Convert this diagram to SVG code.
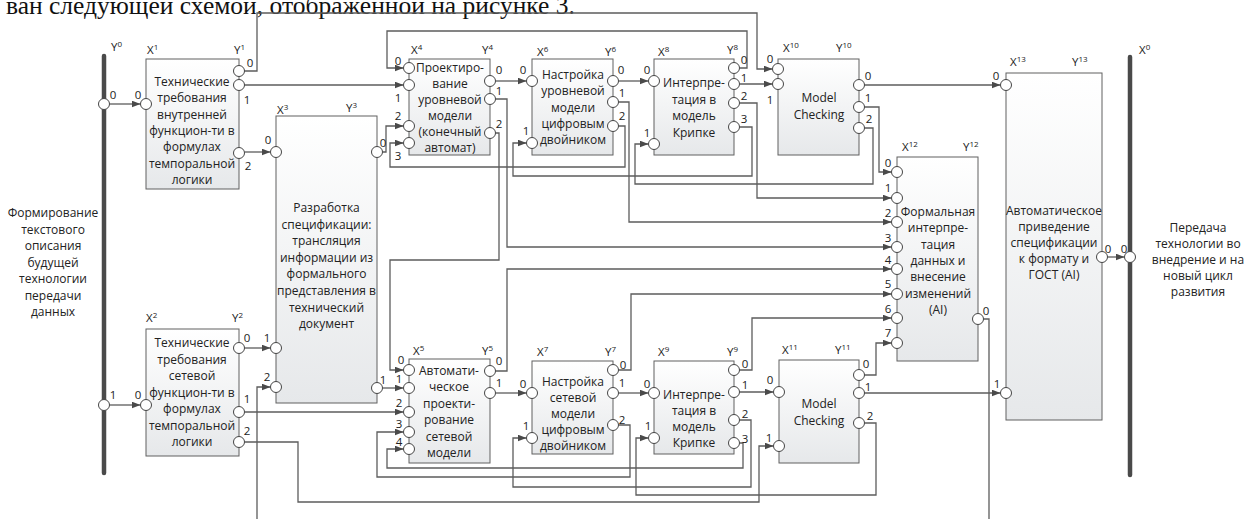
<svg xmlns="http://www.w3.org/2000/svg" width="1245" height="519" viewBox="0 0 1245 519">
<style>
.box{fill:url(#bg);stroke:#606060;stroke-width:1}
.p{fill:#fff;stroke:#454545;stroke-width:1}
.w{fill:none;stroke:#5c5c5c;stroke-width:1.3}
.a{marker-end:url(#ah)}
.bar{stroke:#4a4a4a;stroke-width:4.5;stroke-linecap:round}
text{font-family:"Open Sans","Noto Sans",sans-serif;fill:#222}
.t{font-size:12px;text-anchor:middle}
.n{font-size:11.5px;text-anchor:middle;dominant-baseline:central}
.l{font-size:11.5px}
.s{font-size:8px}
.top{font-family:"Liberation Serif",serif;font-size:25.5px;fill:#111}
</style>
<defs>
<linearGradient id="bg" x1="0" y1="0" x2="0" y2="1">
<stop offset="0" stop-color="#ffffff"/>
<stop offset="1" stop-color="#e6e8ea"/>
</linearGradient>
<marker id="ah" markerUnits="userSpaceOnUse" markerWidth="10" markerHeight="8" refX="9" refY="3.5" orient="auto">
<path d="M0,0 L9,3.5 L0,7 z" fill="#4a4a4a"/>
</marker>
</defs>
<rect width="1245" height="519" fill="#fff"/>
<text class="top" x="6" y="14">ван следующей схемой, отображенной на рисунке 3.</text>

<g id="connectors">
<path class="w a" d="M109.5,104 H140.5"/>
<path class="w a" d="M109.5,405 H140.5"/>
<path class="w a" d="M244.5,71 H257 V13 H757 V69 H772.5"/>
<path class="w a" d="M244.5,85 H403.5"/>
<path class="w a" d="M244.5,152 H270.5"/>
<path class="w a" d="M382.5,152 H386 V126 H403.5"/>
<path class="w a" d="M739.5,68 H747 V31 H387 V68 H403.5"/>
<path class="w a" d="M618.5,126 H625 V167 H390 V143 H403.5"/>
<path class="w a" d="M495.5,81 H526.5"/>
<path class="w a" d="M618.5,81 H648.5"/>
<path class="w a" d="M739.5,127 H752 V176 H513 V143 H526.5"/>
<path class="w a" d="M864.5,128 H873 V184 H635 V144 H648.5"/>
<path class="w a" d="M739.5,84 H772.5"/>
<path class="w a" d="M864.5,85 H1000.5"/>
<path class="w a" d="M864.5,107 H879 V172 H891.5"/>
<path class="w a" d="M739.5,103 H757 V198 H891.5"/>
<path class="w a" d="M618.5,102 H629 V222 H891.5"/>
<path class="w a" d="M495.5,99 H507 V247 H891.5"/>
<path class="w a" d="M495.5,133 H499 V260 H390 V370 H403.5"/>
<path class="w a" d="M495.5,371 H507 V269 H891.5"/>
<path class="w a" d="M618.5,370 H631 V294 H891.5"/>
<path class="w a" d="M739.5,370 H752 V318 H891.5"/>
<path class="w a" d="M864.5,375 H876 V343 H891.5"/>
<path class="w a" d="M864.5,393 H1000.5"/>
<path class="w a" d="M244.5,348 H270.5"/>
<path class="w a" d="M257,519 V387 H270.5"/>
<path class="w a" d="M244.5,412 H403.5"/>
<path class="w a" d="M244.5,442 H298 V502 H759 V446 H773.5"/>
<path class="w a" d="M382.5,388 H403.5"/>
<path class="w a" d="M618.5,425 H630 V477 H377 V432 H403.5"/>
<path class="w a" d="M739.5,443 H743 V468 H387 V449 H403.5"/>
<path class="w a" d="M739.5,420 H751 V487 H513 V438 H526.5"/>
<path class="w a" d="M864.5,423 H876 V495 H636 V438 H648.5"/>
<path class="w a" d="M495.5,393 H526.5"/>
<path class="w a" d="M618.5,393 H648.5"/>
<path class="w a" d="M739.5,392 H773.5"/>
<path class="w a" d="M1107.5,257 H1124.5"/>
<path class="w" d="M983.5,319 H989 V519"/>
</g>

<g id="n-y0">
<line class="bar" x1="104" y1="56" x2="104" y2="473"/>
<text class="l" x="111" y="51">Y<tspan class="s" dy="-4">0</tspan></text>
<circle class="p" cx="104" cy="104" r="5.5"/><text class="n" x="113" y="94">0</text>
<circle class="p" cx="104" cy="405" r="5.5"/><text class="n" x="113" y="394">1</text>
<text class="t" x="53" y="217">Формирование<tspan x="53" dy="16.5">текстового</tspan><tspan x="53" dy="16.5">описания</tspan><tspan x="53" dy="16.5">будущей</tspan><tspan x="53" dy="16.5">технологии</tspan><tspan x="53" dy="16.5">передачи</tspan><tspan x="53" dy="16.5">данных</tspan></text>
</g>

<g id="n-x0">
<line class="bar" x1="1130" y1="57" x2="1130" y2="475"/>
<text class="l" x="1139" y="54">X<tspan class="s" dy="-4">0</tspan></text>
<circle class="p" cx="1130" cy="257" r="5.5"/><text class="n" x="1124" y="248">0</text>
<text class="t" x="1198" y="232">Передача<tspan x="1198" dy="16">технологии во</tspan><tspan x="1198" dy="16">внедрение и на</tspan><tspan x="1198" dy="16">новый цикл</tspan><tspan x="1198" dy="16">развития</tspan></text>
</g>

<g id="n1">
<rect class="box" x="146" y="59" width="93" height="130"/>
<text class="l" x="147" y="54">X<tspan class="s" dy="-4">1</tspan></text>
<text class="l" x="234" y="54">Y<tspan class="s" dy="-4">1</tspan></text>
<circle class="p" cx="146" cy="104" r="5.5"/><text class="n" x="138" y="94">0</text>
<circle class="p" cx="239" cy="71" r="5.5"/><text class="n" x="250" y="62">0</text>
<circle class="p" cx="239" cy="85" r="5.5"/><text class="n" x="247" y="99">1</text>
<circle class="p" cx="239" cy="153" r="5.5"/><text class="n" x="248" y="165">2</text>
<text class="t" x="192" y="86">Технические<tspan x="192" dy="16.3">требования</tspan><tspan x="192" dy="16.3">внутренней</tspan><tspan x="192" dy="16.3">функцион-ти в</tspan><tspan x="192" dy="16.3">формулах</tspan><tspan x="192" dy="16.3">темпоральной</tspan><tspan x="192" dy="16.3">логики</tspan></text>
</g>

<g id="n2">
<rect class="box" x="146" y="329" width="93" height="127"/>
<text class="l" x="146" y="322">X<tspan class="s" dy="-4">2</tspan></text>
<text class="l" x="232" y="322">Y<tspan class="s" dy="-4">2</tspan></text>
<circle class="p" cx="146" cy="405" r="5.5"/><text class="n" x="138" y="394">0</text>
<circle class="p" cx="239" cy="348" r="5.5"/><text class="n" x="247" y="337">0</text>
<circle class="p" cx="239" cy="412" r="5.5"/><text class="n" x="247" y="398">1</text>
<circle class="p" cx="239" cy="442" r="5.5"/><text class="n" x="247" y="430">2</text>
<text class="t" x="192" y="347">Технические<tspan x="192" dy="16.5">требования</tspan><tspan x="192" dy="16.5">сетевой</tspan><tspan x="192" dy="16.5">функцион-ти в</tspan><tspan x="192" dy="16.5">формулах</tspan><tspan x="192" dy="16.5">темпоральной</tspan><tspan x="192" dy="16.5">логики</tspan></text>
</g>

<g id="n3">
<rect class="box" x="276" y="116" width="101" height="287"/>
<text class="l" x="277" y="114">X<tspan class="s" dy="-4">3</tspan></text>
<text class="l" x="346" y="112">Y<tspan class="s" dy="-4">3</tspan></text>
<circle class="p" cx="276" cy="152" r="5.5"/><text class="n" x="268" y="139">0</text>
<circle class="p" cx="276" cy="348" r="5.5"/><text class="n" x="267" y="337">1</text>
<circle class="p" cx="276" cy="387" r="5.5"/><text class="n" x="267" y="376">2</text>
<circle class="p" cx="377" cy="152" r="5.5"/><text class="n" x="383" y="142">0</text>
<circle class="p" cx="377" cy="388" r="5.5"/><text class="n" x="383" y="379">1</text>
<text class="t" x="326.5" y="212">Разработка<tspan x="326.5" dy="16.6">спецификации:</tspan><tspan x="326.5" dy="16.6">трансляция</tspan><tspan x="326.5" dy="16.6">информации из</tspan><tspan x="326.5" dy="16.6">формального</tspan><tspan x="326.5" dy="16.6">представления в</tspan><tspan x="326.5" dy="16.6">технический</tspan><tspan x="326.5" dy="16.6">документ</tspan></text>
</g>

<g id="n4">
<rect class="box" x="409" y="59" width="81" height="96"/>
<text class="l" x="411" y="54">X<tspan class="s" dy="-4">4</tspan></text>
<text class="l" x="482" y="54">Y<tspan class="s" dy="-4">4</tspan></text>
<circle class="p" cx="409" cy="68" r="5.5"/><text class="n" x="398" y="60">0</text>
<circle class="p" cx="409" cy="85" r="5.5"/><text class="n" x="398" y="97">1</text>
<circle class="p" cx="409" cy="126" r="5.5"/><text class="n" x="398" y="115">2</text>
<circle class="p" cx="409" cy="143" r="5.5"/><text class="n" x="398" y="155">3</text>
<circle class="p" cx="490" cy="81" r="5.5"/><text class="n" x="499" y="69">0</text>
<circle class="p" cx="490" cy="99" r="5.5"/><text class="n" x="499" y="90">1</text>
<circle class="p" cx="490" cy="133" r="5.5"/><text class="n" x="499" y="123">2</text>
<text class="t" x="450" y="72">Проектиро-<tspan x="450" dy="16">вание</tspan><tspan x="450" dy="16">уровневой</tspan><tspan x="450" dy="16">модели</tspan><tspan x="450" dy="16">(конечный</tspan><tspan x="450" dy="16">автомат)</tspan></text>
</g>

<g id="n5">
<rect class="box" x="409" y="359" width="81" height="104"/>
<text class="l" x="413" y="355">X<tspan class="s" dy="-4">5</tspan></text>
<text class="l" x="482" y="355">Y<tspan class="s" dy="-4">5</tspan></text>
<circle class="p" cx="409" cy="370" r="5.5"/><text class="n" x="401" y="359">0</text>
<circle class="p" cx="409" cy="388" r="5.5"/><text class="n" x="399" y="378">1</text>
<circle class="p" cx="409" cy="412" r="5.5"/><text class="n" x="399" y="402">2</text>
<circle class="p" cx="409" cy="432" r="5.5"/><text class="n" x="399" y="423">3</text>
<circle class="p" cx="409" cy="449" r="5.5"/><text class="n" x="399" y="441">4</text>
<circle class="p" cx="490" cy="371" r="5.5"/><text class="n" x="499" y="360">0</text>
<circle class="p" cx="490" cy="393" r="5.5"/><text class="n" x="499" y="382">1</text>
<text class="t" x="449" y="375">Автомати-<tspan x="449" dy="16.4">ческое</tspan><tspan x="449" dy="16.4">проекти-</tspan><tspan x="449" dy="16.4">рование</tspan><tspan x="449" dy="16.4">сетевой</tspan><tspan x="449" dy="16.4">модели</tspan></text>
</g>

<g id="n6">
<rect class="box" x="532" y="59" width="81" height="96"/>
<text class="l" x="537" y="56">X<tspan class="s" dy="-4">6</tspan></text>
<text class="l" x="605" y="56">Y<tspan class="s" dy="-4">6</tspan></text>
<circle class="p" cx="532" cy="81" r="5.5"/><text class="n" x="523" y="69">0</text>
<circle class="p" cx="532" cy="143" r="5.5"/><text class="n" x="526" y="130">1</text>
<circle class="p" cx="613" cy="81" r="5.5"/><text class="n" x="621" y="69">0</text>
<circle class="p" cx="613" cy="102" r="5.5"/><text class="n" x="622" y="92">1</text>
<circle class="p" cx="613" cy="126" r="5.5"/><text class="n" x="622" y="115">2</text>
<text class="t" x="573" y="79">Настройка<tspan x="573" dy="16.3">уровневой</tspan><tspan x="573" dy="16.3">модели</tspan><tspan x="573" dy="16.3">цифровым</tspan><tspan x="573" dy="16.3">двойником</tspan></text>
</g>

<g id="n7">
<rect class="box" x="532" y="361" width="81" height="93"/>
<text class="l" x="537" y="356">X<tspan class="s" dy="-4">7</tspan></text>
<text class="l" x="605" y="356">Y<tspan class="s" dy="-4">7</tspan></text>
<circle class="p" cx="532" cy="393" r="5.5"/><text class="n" x="523" y="383">0</text>
<circle class="p" cx="532" cy="438" r="5.5"/><text class="n" x="526" y="425">1</text>
<circle class="p" cx="613" cy="370" r="5.5"/><text class="n" x="623" y="364">0</text>
<circle class="p" cx="613" cy="393" r="5.5"/><text class="n" x="622" y="382">1</text>
<circle class="p" cx="613" cy="425" r="5.5"/><text class="n" x="622" y="419">2</text>
<text class="t" x="573" y="386">Настройка<tspan x="573" dy="16">сетевой</tspan><tspan x="573" dy="16">модели</tspan><tspan x="573" dy="16">цифровым</tspan><tspan x="573" dy="16">двойником</tspan></text>
</g>

<g id="n8">
<rect class="box" x="654" y="59" width="80" height="96"/>
<text class="l" x="658" y="56">X<tspan class="s" dy="-4">8</tspan></text>
<text class="l" x="727" y="54">Y<tspan class="s" dy="-4">8</tspan></text>
<circle class="p" cx="654" cy="81" r="5.5"/><text class="n" x="647" y="69">0</text>
<circle class="p" cx="654" cy="144" r="5.5"/><text class="n" x="647" y="132">1</text>
<circle class="p" cx="734" cy="68" r="5.5"/><text class="n" x="744" y="59">0</text>
<circle class="p" cx="734" cy="84" r="5.5"/><text class="n" x="744" y="77">1</text>
<circle class="p" cx="734" cy="103" r="5.5"/><text class="n" x="744" y="95">2</text>
<circle class="p" cx="734" cy="127" r="5.5"/><text class="n" x="744" y="118">3</text>
<text class="t" x="694" y="87">Интерпре-<tspan x="694" dy="16.7">тация в</tspan><tspan x="694" dy="16.7">модель</tspan><tspan x="694" dy="16.7">Крипке</tspan></text>
</g>

<g id="n9">
<rect class="box" x="654" y="361" width="80" height="93"/>
<text class="l" x="658" y="356">X<tspan class="s" dy="-4">9</tspan></text>
<text class="l" x="727" y="356">Y<tspan class="s" dy="-4">9</tspan></text>
<circle class="p" cx="654" cy="393" r="5.5"/><text class="n" x="647" y="383">0</text>
<circle class="p" cx="654" cy="438" r="5.5"/><text class="n" x="648" y="425">1</text>
<circle class="p" cx="734" cy="370" r="5.5"/><text class="n" x="745" y="363">0</text>
<circle class="p" cx="734" cy="392" r="5.5"/><text class="n" x="745" y="384">1</text>
<circle class="p" cx="734" cy="420" r="5.5"/><text class="n" x="745" y="413">2</text>
<circle class="p" cx="734" cy="443" r="5.5"/><text class="n" x="745" y="438">3</text>
<text class="t" x="694" y="399">Интерпре-<tspan x="694" dy="16">тация в</tspan><tspan x="694" dy="16">модель</tspan><tspan x="694" dy="16">Крипке</tspan></text>
</g>

<g id="n10">
<rect class="box" x="778" y="59" width="81" height="96"/>
<text class="l" x="783" y="52">X<tspan class="s" dy="-4">10</tspan></text>
<text class="l" x="836" y="52">Y<tspan class="s" dy="-4">10</tspan></text>
<circle class="p" cx="778" cy="69" r="5.5"/><text class="n" x="770" y="58">0</text>
<circle class="p" cx="778" cy="84" r="5.5"/><text class="n" x="770" y="99">1</text>
<circle class="p" cx="859" cy="85" r="5.5"/><text class="n" x="868" y="75">0</text>
<circle class="p" cx="859" cy="107" r="5.5"/><text class="n" x="868" y="97">1</text>
<circle class="p" cx="859" cy="128" r="5.5"/><text class="n" x="869" y="118">2</text>
<text class="t" x="819" y="102">Model<tspan x="819" dy="16.7">Checking</tspan></text>
</g>

<g id="n11">
<rect class="box" x="779" y="360" width="80" height="103"/>
<text class="l" x="782" y="354">X<tspan class="s" dy="-4">11</tspan></text>
<text class="l" x="835" y="354">Y<tspan class="s" dy="-4">11</tspan></text>
<circle class="p" cx="779" cy="392" r="5.5"/><text class="n" x="770" y="379">0</text>
<circle class="p" cx="779" cy="446" r="5.5"/><text class="n" x="769" y="437">1</text>
<circle class="p" cx="859" cy="375" r="5.5"/><text class="n" x="866" y="363">0</text>
<circle class="p" cx="859" cy="393" r="5.5"/><text class="n" x="868" y="386">1</text>
<circle class="p" cx="859" cy="423" r="5.5"/><text class="n" x="870" y="415">2</text>
<text class="t" x="819" y="408">Model<tspan x="819" dy="16.7">Checking</tspan></text>
</g>

<g id="n12">
<rect class="box" x="897" y="157" width="81" height="204"/>
<text class="l" x="902" y="151">X<tspan class="s" dy="-4">12</tspan></text>
<text class="l" x="963" y="151">Y<tspan class="s" dy="-4">12</tspan></text>
<circle class="p" cx="897" cy="172" r="5.5"/><text class="n" x="888" y="162">0</text>
<circle class="p" cx="897" cy="198" r="5.5"/><text class="n" x="888" y="187">1</text>
<circle class="p" cx="897" cy="222" r="5.5"/><text class="n" x="888" y="212">2</text>
<circle class="p" cx="897" cy="247" r="5.5"/><text class="n" x="888" y="237">3</text>
<circle class="p" cx="897" cy="269" r="5.5"/><text class="n" x="888" y="259">4</text>
<circle class="p" cx="897" cy="294" r="5.5"/><text class="n" x="888" y="283">5</text>
<circle class="p" cx="897" cy="318" r="5.5"/><text class="n" x="888" y="308">6</text>
<circle class="p" cx="897" cy="343" r="5.5"/><text class="n" x="888" y="332">7</text>
<circle class="p" cx="978" cy="319" r="5.5"/><text class="n" x="986" y="310">0</text>
<text class="t" x="938" y="216">Формальная<tspan x="938" dy="16.3">интерпре-</tspan><tspan x="938" dy="16.3">тация</tspan><tspan x="938" dy="16.3">данных и</tspan><tspan x="938" dy="16.3">внесение</tspan><tspan x="938" dy="16.3">изменений</tspan><tspan x="938" dy="16.3">(AI)</tspan></text>
</g>

<g id="n13">
<rect class="box" x="1006" y="73" width="96" height="347"/>
<text class="l" x="1010" y="66">X<tspan class="s" dy="-4">13</tspan></text>
<text class="l" x="1072" y="66">Y<tspan class="s" dy="-4">13</tspan></text>
<circle class="p" cx="1006" cy="85" r="5.5"/><text class="n" x="996" y="75">0</text>
<circle class="p" cx="1006" cy="393" r="5.5"/><text class="n" x="997" y="383">1</text>
<circle class="p" cx="1102" cy="257" r="5.5"/><text class="n" x="1108" y="248">0</text>
<text class="t" x="1054" y="215">Автоматическое<tspan x="1054" dy="16">приведение</tspan><tspan x="1054" dy="16">спецификации</tspan><tspan x="1054" dy="16">к формату и</tspan><tspan x="1054" dy="16">ГОСТ (AI)</tspan></text>
</g>
</svg>
